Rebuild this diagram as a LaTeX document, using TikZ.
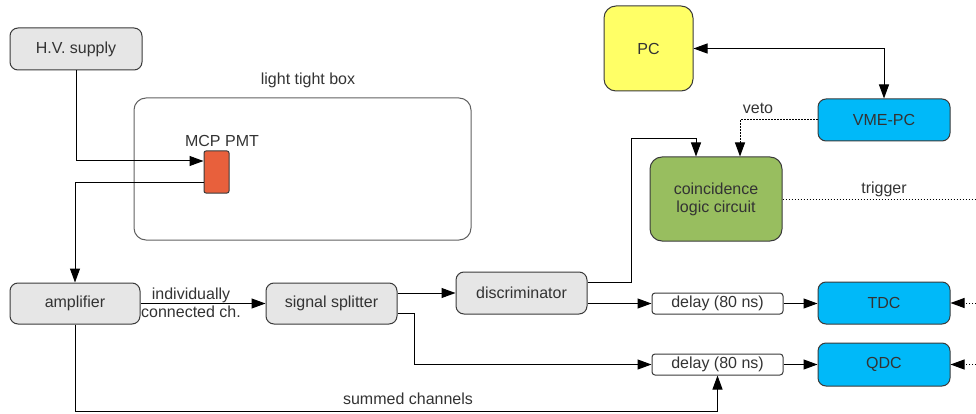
\documentclass[tikz,border=0pt]{standalone}
\usepackage{fontspec}
\setmainfont{Liberation Sans}
\usetikzlibrary{arrows.meta,calc}
\definecolor{txt}{HTML}{333333}
\definecolor{bord}{HTML}{3A3A3A}
\definecolor{lgray}{HTML}{E6E6E6}
\definecolor{pmtred}{HTML}{E8603C}
\definecolor{cyanbox}{HTML}{00B9F9}
\definecolor{pcyellow}{HTML}{FFFF66}
\definecolor{coingreen}{HTML}{98BE5F}
\tikzset{
  box/.style={draw=bord, line width=1pt, rounded corners=8pt, text=txt, inner sep=0pt, align=center,
    font=\fontsize{16}{18}\selectfont},
  graybox/.style={box, fill=lgray, minimum width=131pt, minimum height=41pt},
  delaybox/.style={box, fill=white, rounded corners=3pt, minimum width=131pt, minimum height=21pt},
  cyanb/.style={box, fill=cyanbox, minimum width=132pt, minimum height=42pt},
  lbl/.style={text=txt, inner sep=0pt, align=center, font=\fontsize{16}{18}\selectfont},
  arr/.style={line width=1pt, -{Triangle[length=14pt,width=10pt]}},
  arrtwo/.style={line width=1pt, {Triangle[length=14pt,width=10pt]}-{Triangle[length=14pt,width=10pt]}},
  dotline/.style={dash pattern=on 1.5pt off 1.5pt}
}
\begin{document}
\begin{tikzpicture}[x=1pt,y=-1pt]
\useasboundingbox (0,0) rectangle (976,414);
% nodes
\node[graybox, minimum width=132pt, minimum height=42pt] (hv) at (76,49) {H.V. supply};
\node[draw=bord!80, line width=1pt, rounded corners=12pt, minimum width=337pt, minimum height=142pt, inner sep=0pt] (ltb) at (302.5,169) {};
\node[lbl] (ltblbl) at (308,80) {light tight box};
\node[draw=bord, fill=pmtred, line width=1pt, rounded corners=2pt, minimum width=25pt, minimum height=42pt, inner sep=0pt] (pmt) at (216.5,172) {};
\node[lbl] (pmtlbl) at (222,141) {MCP PMT};
\node[graybox, minimum width=130pt] (amp) at (75,303.5) {amplifier};
\node[graybox] (split) at (331.5,303.5) {signal splitter};
\node[graybox, minimum height=42pt] (disc) at (521.5,293) {discriminator};
\node[delaybox] (del1) at (717.5,303.5) {delay (80 ns)};
\node[delaybox] (del2) at (717.5,364.5) {delay (80 ns)};
\node[cyanb] (tdc) at (884,303) {TDC};
\node[cyanb, minimum height=43pt] (qdc) at (884,364.5) {QDC};
\node[box, fill=pcyellow, rounded corners=12pt, minimum width=89pt, minimum height=85pt] (pc) at (648.5,48.5) {PC};
\node[cyanb] (vme) at (884,120) {VME-PC};
\node[box, fill=coingreen, rounded corners=12pt, minimum width=132pt, minimum height=84pt] (coin) at (716,199) {coincidence\\logic circuit};
% labels
\node[lbl] (indiv) at (191,303) {individually\\connected ch.};
\node[lbl] (summed) at (408,399) {summed channels};
\node[lbl] (veto) at (758,108) {veto};
\node[lbl] (trig) at (884,189) {trigger};
% free ends
\coordinate (tdcin) at (976,303);
\coordinate (qdcin) at (976,364.5);
\coordinate (trigout) at (976,199);
% connectors
\draw[arr] (hv.south) |- ($(pmt.west)+(0,-11)$);
\draw[arr] ($(pmt.west)+(0,10)$) -| (amp.north);
\draw[arr] (amp.east) -- (split.west);
\draw[arr] (split.east |- disc.west) -- (disc.west);
\draw[arr] ($(split.east)+(0,10)$) -- ++(17,0) |- (del2.west);
\draw[arr] ($(disc.east)+(0,-11)$) -- ++(44,0) |- ($(coin.north)+(-20,-18)$) -- ($(coin.north)+(-20,0)$);
\draw[arr] (disc.east |- del1.west) -- (del1.west);
\draw[arr] (del1.east) -- (tdc.west |- del1.east);
\draw[arr] (del2.east) -- (qdc.west |- del2.east);
\draw[arr] (amp.south) |- ($(del2.south)+(0,36)$) -- (del2.south);
\draw[arrtwo] (pc.east) -| (vme.north);
\draw[arr, dotline] (vme.west) -| ($(coin.north)+(24,0)$);
\draw[line width=1pt, dotline] (coin.east) -- (trigout);
\draw[arr, dotline] (tdcin) -- (tdc.east);
\draw[arr, dotline] (qdcin) -- (qdc.east);
\end{tikzpicture}
\end{document}
